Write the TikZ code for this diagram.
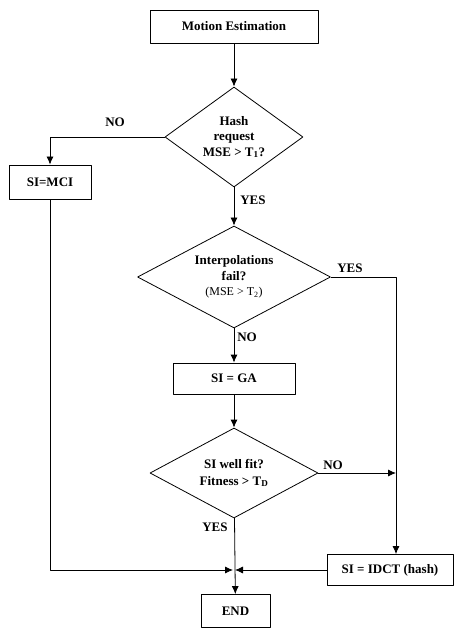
\documentclass[tikz,border=0pt]{standalone}
\usepackage{fontspec}
\setmainfont{Liberation Serif}
\usetikzlibrary{shapes.geometric,arrows.meta}
\begin{document}
\begin{tikzpicture}[x=1pt,y=-1pt,line join=round,line width=0.8pt,>={Latex[length=8pt,width=7pt]},
    every node/.style={font=\bfseries\fontsize{13}{15.5}\selectfont,align=center},
    procbox/.style={draw,rectangle,inner sep=0pt},
    testbox/.style={draw,diamond,inner sep=0pt,aspect=1.4}]
    \useasboundingbox (0,0) rectangle (454,628);
    \def\mycol{234}\def\myright{396}\def\myjoin{570}
    \node[procbox,minimum width=168,minimum height=33] (nmotion) at (\mycol,26.5) {Motion Estimation};
    \node[testbox,minimum width=138,minimum height=100] (nhash) at (\mycol,137) {Hash\\request\\MSE > T\textsubscript{1}?};
    \node[procbox,minimum width=82,minimum height=34] (nmci) at (50,182) {SI=MCI};
    \node[testbox,minimum width=193,minimum height=102] (ninterp) at (\mycol,277) {Interpolations\\fail?\\{\mdseries\fontsize{12}{15}\selectfont(MSE > T\textsubscript{2})}};
    \node[procbox,minimum width=122,minimum height=31] (nga) at (\mycol,378.5) {SI = GA};
    \node[testbox,minimum width=168,minimum height=90,font=\bfseries\fontsize{13}{17}\selectfont] (nfit) at (\mycol,473) {SI well fit?\\Fitness > T\textsubscript{D}};
    \node[procbox,minimum width=126,minimum height=31] (nidct) at (390,\myjoin) {SI = IDCT (hash)};
    \node[procbox,minimum width=69,minimum height=33] (nend) at (235.5,611) {END};
    \coordinate (cright) at (\myright,277);
    \coordinate (cjoin) at (\mycol,\myjoin);
    % labels
    \path (115,122) node {NO} (253,200) node {YES} (350,268) node {YES}
          (247,337) node {NO} (333,465) node {NO} (215,527) node {YES};
    % connectors
    \draw[->] (nmotion)--(nhash);
    \draw[->] (nhash.west) -| (nmci.north);
    \draw[->] (nhash)--(ninterp);
    \draw[->] (ninterp)--(nga);
    \draw[->] (nga)--(nfit);
    \draw[->] (nfit)--(nend);
    \draw[->] (ninterp.east)--(cright)--(cright |- nidct.north);
    \draw[->] (nfit.east)--(cright |- nfit.east);
    \draw[->,shorten >=1pt] (nmci.south) |- (cjoin);
    \draw[->,shorten >=1pt] (nidct.west)--(cjoin);
\end{tikzpicture}
\end{document}
